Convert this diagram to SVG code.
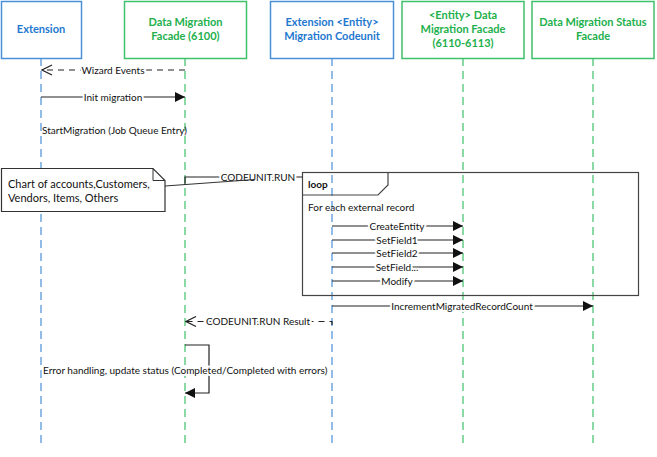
<svg xmlns="http://www.w3.org/2000/svg" width="657" height="457" viewBox="0 0 657 457">
<style>
  .hdr{font-family:Lato,"Liberation Sans",sans-serif;font-size:11px;font-weight:bold;text-anchor:middle}
  .blue .box{fill:#fff;stroke:#4a90d9;stroke-width:1.5}
  .green .box{fill:#fff;stroke:#3fc06a;stroke-width:1.5}
  .blue text{fill:#1e78d0}
  .green text{fill:#22b04c}
  .life{stroke-width:1.2;stroke-dasharray:8 5;fill:none}
  .blue .life{stroke:#4a90d9}
  .green .life{stroke:#3fc06a}
  .lbl{font-family:Lato,"Liberation Sans",sans-serif;font-size:10px;fill:#111}
  .mid{text-anchor:middle;paint-order:stroke;stroke:#fff;stroke-width:4px;stroke-linejoin:round}
  .msg{stroke:#222;stroke-width:1.2;fill:none}
  .ret{stroke:#222;stroke-width:1.2;fill:none;stroke-dasharray:6 5}
</style>
<defs>
  <marker id="fill" viewBox="0 0 10 10" refX="10" refY="5" markerWidth="10" markerHeight="10" markerUnits="userSpaceOnUse" orient="auto">
    <path d="M0,0 L10,5 L0,10 Z" fill="#111"/>
  </marker>
  <marker id="open" viewBox="0 0 12 12" refX="11" refY="6" markerWidth="12" markerHeight="12" markerUnits="userSpaceOnUse" orient="auto">
    <path d="M1,1 L11,6 L1,11" fill="none" stroke="#222" stroke-width="1.2"/>
  </marker>
</defs>
<rect width="657" height="457" fill="#fff"/>

<g id="extension" class="blue">
  <line class="life" x1="41" y1="58" x2="41" y2="447"/>
  <rect class="box" x="1.5" y="1.5" width="80" height="57"/>
  <text class="hdr" x="41" y="33">Extension</text>
</g>
<g id="data-migration-facade" class="green">
  <line class="life" x1="185" y1="58" x2="185" y2="447"/>
  <rect class="box" x="124.5" y="1.5" width="122" height="57"/>
  <text class="hdr" x="185.5" y="26">Data Migration</text>
  <text class="hdr" x="185.5" y="40">Facade (6100)</text>
</g>
<g id="entity-migration-codeunit" class="blue">
  <line class="life" x1="332" y1="58" x2="332" y2="447"/>
  <rect class="box" x="270.5" y="1.5" width="123" height="57"/>
  <text class="hdr" x="332" y="26">Extension &lt;Entity&gt;</text>
  <text class="hdr" x="332" y="40">Migration Codeunit</text>
</g>
<g id="entity-data-migration-facade" class="green">
  <line class="life" x1="463" y1="58" x2="463" y2="447"/>
  <rect class="box" x="402" y="1.5" width="122" height="57"/>
  <text class="hdr" x="463" y="19">&lt;Entity&gt; Data</text>
  <text class="hdr" x="463" y="33">Migration Facade</text>
  <text class="hdr" x="463" y="47">(6110-6113)</text>
</g>
<g id="data-migration-status-facade" class="green">
  <line class="life" x1="593" y1="58" x2="593" y2="447"/>
  <rect class="box" x="532" y="1.5" width="122" height="57"/>
  <text class="hdr" x="593" y="26">Data Migration Status</text>
  <text class="hdr" x="593" y="40">Facade</text>
</g>

<g id="loop-frame">
  <rect x="302.5" y="172.5" width="336" height="123" fill="none" stroke="#444" stroke-width="1.2"/>
  <path d="M302.5,195 H378 L388,185 V172.5" fill="none" stroke="#444" stroke-width="1.2"/>
  <text x="308" y="188" font-family="Lato,'Liberation Sans',sans-serif" font-size="10px" font-weight="bold" fill="#111">loop</text>
  <text class="lbl" x="308" y="210.5">For each external record</text>
</g>

<g id="note">
  <path d="M1.5,168.5 H153 L165,180.5 V211.5 H1.5 Z" fill="#fff" stroke="#333" stroke-width="1.2"/>
  <path d="M153,168.5 V180.5 H165" fill="none" stroke="#333" stroke-width="1"/>
  <text x="8" y="188" font-family="Lato,'Liberation Sans',sans-serif" font-size="11px" fill="#111">Chart of accounts,Customers,</text>
  <text x="8" y="202" font-family="Lato,'Liberation Sans',sans-serif" font-size="11px" fill="#111">Vendors, Items, Others</text>
</g>

<g id="connectors">
  <line class="ret" x1="185" y1="70" x2="42" y2="70" marker-end="url(#open)"/>
  <text class="lbl mid" x="113" y="73.5">Wizard Events</text>

  <line class="msg" x1="41" y1="97" x2="185" y2="97" marker-end="url(#fill)"/>
  <text class="lbl mid" x="113" y="100.5">Init migration</text>

  <text class="lbl" x="42" y="134">StartMigration (Job Queue Entry)</text>

  <path class="msg" d="M185,185 V177 H302.5"/>
  <text class="lbl mid" x="258" y="180.5">CODEUNIT.RUN</text>
  <line x1="165" y1="186" x2="255" y2="179.5" stroke="#333" stroke-width="1.2"/>

  <line class="msg" x1="332" y1="226" x2="463" y2="226" marker-end="url(#fill)"/>
  <text class="lbl mid" x="397" y="229.5">CreateEntity</text>
  <line class="msg" x1="332" y1="240" x2="463" y2="240" marker-end="url(#fill)"/>
  <text class="lbl mid" x="397" y="243.5">SetField1</text>
  <line class="msg" x1="332" y1="253" x2="463" y2="253" marker-end="url(#fill)"/>
  <text class="lbl mid" x="397" y="256.5">SetField2</text>
  <line class="msg" x1="332" y1="267" x2="463" y2="267" marker-end="url(#fill)"/>
  <text class="lbl mid" x="397" y="270.5">SetField...</text>
  <line class="msg" x1="332" y1="281" x2="463" y2="281" marker-end="url(#fill)"/>
  <text class="lbl mid" x="397" y="284.5">Modify</text>

  <line class="msg" x1="332" y1="306" x2="593" y2="306" marker-end="url(#fill)"/>
  <text class="lbl mid" x="462" y="309.5">IncrementMigratedRecordCount</text>

  <path class="ret" d="M332,325 V321.5 H186" marker-end="url(#open)"/>
  <text class="lbl mid" x="258" y="325">CODEUNIT.RUN Result</text>

  <path class="msg" d="M185,345 H209 V393 H185" marker-end="url(#fill)"/>
  <text class="lbl" x="43" y="374" paint-order="stroke" stroke="#fff" stroke-width="4px" stroke-linejoin="round">Error handling, update status (Completed/Completed with errors)</text>
</g>
</svg>
